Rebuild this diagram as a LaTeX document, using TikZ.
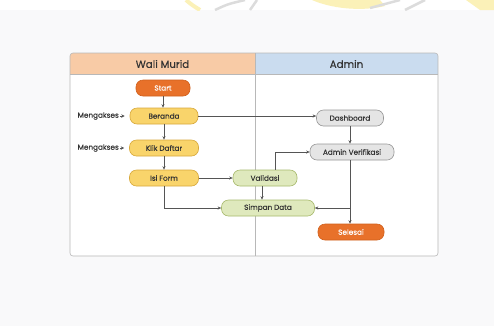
\documentclass[tikz,border=0pt]{standalone}
\usepackage{fontspec}
\setmainfont{Poppins}[FakeBold=0.35]
\usetikzlibrary{arrows.meta}

\definecolor{pagebg}{HTML}{F9F9FA}
\definecolor{framecol}{HTML}{B8B8B8}
\definecolor{hdrleft}{HTML}{F8CBA6}
\definecolor{hdrright}{HTML}{CADCEF}
\definecolor{orangefill}{HTML}{E8712A}
\definecolor{orangeline}{HTML}{D0601C}
\definecolor{yellowfill}{HTML}{F9D46B}
\definecolor{yellowline}{HTML}{D8A93C}
\definecolor{greenfill}{HTML}{DFE9BD}
\definecolor{greenline}{HTML}{A7B96C}
\definecolor{grayfill}{HTML}{E5E5E5}
\definecolor{grayline}{HTML}{979797}
\definecolor{linecol}{HTML}{555555}
\definecolor{textcol}{HTML}{333333}
\definecolor{markyellow}{HTML}{FBF1B8}
\definecolor{markgray}{HTML}{DCDCDC}

\tikzset{
  box/.style={rounded corners=7bp, line width=0.6pt, minimum height=16bp,
    inner sep=1pt, font=\fontsize{7.3}{8.5}\selectfont, text=textcol},
  endbox/.style={box, fill=orangefill, draw=orangeline, text=white},
  userbox/.style={box, fill=yellowfill, draw=yellowline},
  checkbox/.style={box, fill=greenfill, draw=greenline},
  adminbox/.style={box, fill=grayfill, draw=grayline},
  flow/.style={draw=linecol, line width=0.5pt, -{Stealth[length=3.5pt,width=3pt]}},
  pointer/.style={draw=linecol, line width=0.5pt, -{Stealth[length=3.5pt,width=3.5pt]}},
  note/.style={font=\fontsize{7.3}{8.5}\selectfont, text=textcol, inner sep=0pt},
  lanehead/.style={font=\fontsize{10.3}{12}\selectfont, text=textcol}
}

\begin{document}
\begin{tikzpicture}[x=1bp,y=-1bp]
  % page
  \fill[pagebg] (0,0) rectangle (494,326);
  \fill[white] (0,0) rectangle (494,10);
  \useasboundingbox (0,0) rectangle (494,326);

  % faint emblem edge along the top
  \begin{scope}
    \clip (0,0) rectangle (494,10);
    \draw[markyellow, line width=4pt] (186,0) .. controls (192,5) .. (200,10);
    \draw[markgray, line width=2.5pt] (215,10) .. controls (228,4) .. (245,0);
    \draw[markgray, line width=2.5pt] (250,10) -- (257,0);
    \fill[markyellow] (312,0) .. controls (330,8) and (360,12) .. (385,6) -- (380,0) -- cycle;
    \draw[markgray, line width=2.5pt] (370,8) -- (400,0);
    \draw[markgray, line width=2.5pt] (405,10) -- (425,0);
    \fill[markyellow] (466,0) -- (494,0) -- (494,10) -- (480,10) -- cycle;
  \end{scope}

  % swimlane frame with coloured lane headers
  \begin{scope}
    \clip[rounded corners=3] (70,53) rectangle (438,256);
    \fill[white] (70,53) rectangle (438,256);
    \fill[hdrleft] (70,53) rectangle (255,74);
    \fill[hdrright] (255,53) rectangle (438,74);
  \end{scope}
  \draw[framecol, line width=0.5pt] (70,74) -- (438,74);
  \draw[framecol, line width=0.5pt] (255,53) -- (255,256);
  \draw[framecol, line width=0.6pt, rounded corners=3] (70,53) rectangle (438,256);

  \node[lanehead] (laneA) at (162.5,64) {Wali Murid};
  \node[lanehead] (laneB) at (346.5,64) {Admin};

  % Wali Murid lane
  \node[endbox, minimum width=54bp] (start) at (163,88) {Start};
  \node[userbox, minimum width=68bp] (beranda) at (164,116) {Beranda};
  \node[userbox, minimum width=69bp] (daftar) at (164,148) {Klik Daftar};
  \node[userbox, minimum width=69bp] (form) at (164,178) {Isi Form};

  \node[note, anchor=east] (m1) at (119,116) {Mengakses};
  \node[note, anchor=east] (m2) at (119,148) {Mengakses};

  % shared nodes
  \node[checkbox, minimum width=64bp] (valid) at (265,178) {Validasi};
  \node[checkbox, minimum width=93bp] (simpan) at (268,208) {Simpan Data};

  % Admin lane
  \node[adminbox, minimum width=67bp] (dash) at (350,118) {Dashboard};
  \node[adminbox, minimum width=84bp] (verif) at (352,152) {Admin Verifikasi};
  \node[endbox, minimum width=66bp] (selesai) at (351,232) {Selesai};

  % connectors
  \draw[pointer, shorten <=1pt, shorten >=5pt] (m1.east) -- (beranda.west);
  \draw[pointer, shorten <=1pt, shorten >=5pt] (m2.east) -- (daftar.west);

  \draw[flow] (start) -- (start |- beranda.north);
  \draw[flow] (beranda) -- (beranda |- daftar.north);
  \draw[flow] (daftar) -- (daftar |- form.north);
  \draw[flow] (beranda.east) -- (dash.west |- beranda.east);
  \draw[flow] (form.east) -- (valid.west);
  \draw[flow] (form.south) |- (simpan.west);
  \draw[flow] (valid.south -| 262,0) -- (simpan.north -| 262,0);
  \coordinate (vup) at (275,170);
  \draw[flow] (valid.north -| vup) |- (verif.west);
  \draw[flow] (dash) -- (dash |- verif.north);
  \coordinate (vdown) at (350,0);
  \draw[flow] (verif.south -| vdown) -- (selesai.north -| vdown);
  \coordinate (branch) at (350,208);
  \draw[flow] (branch) -- (simpan.east);
\end{tikzpicture}
\end{document}
